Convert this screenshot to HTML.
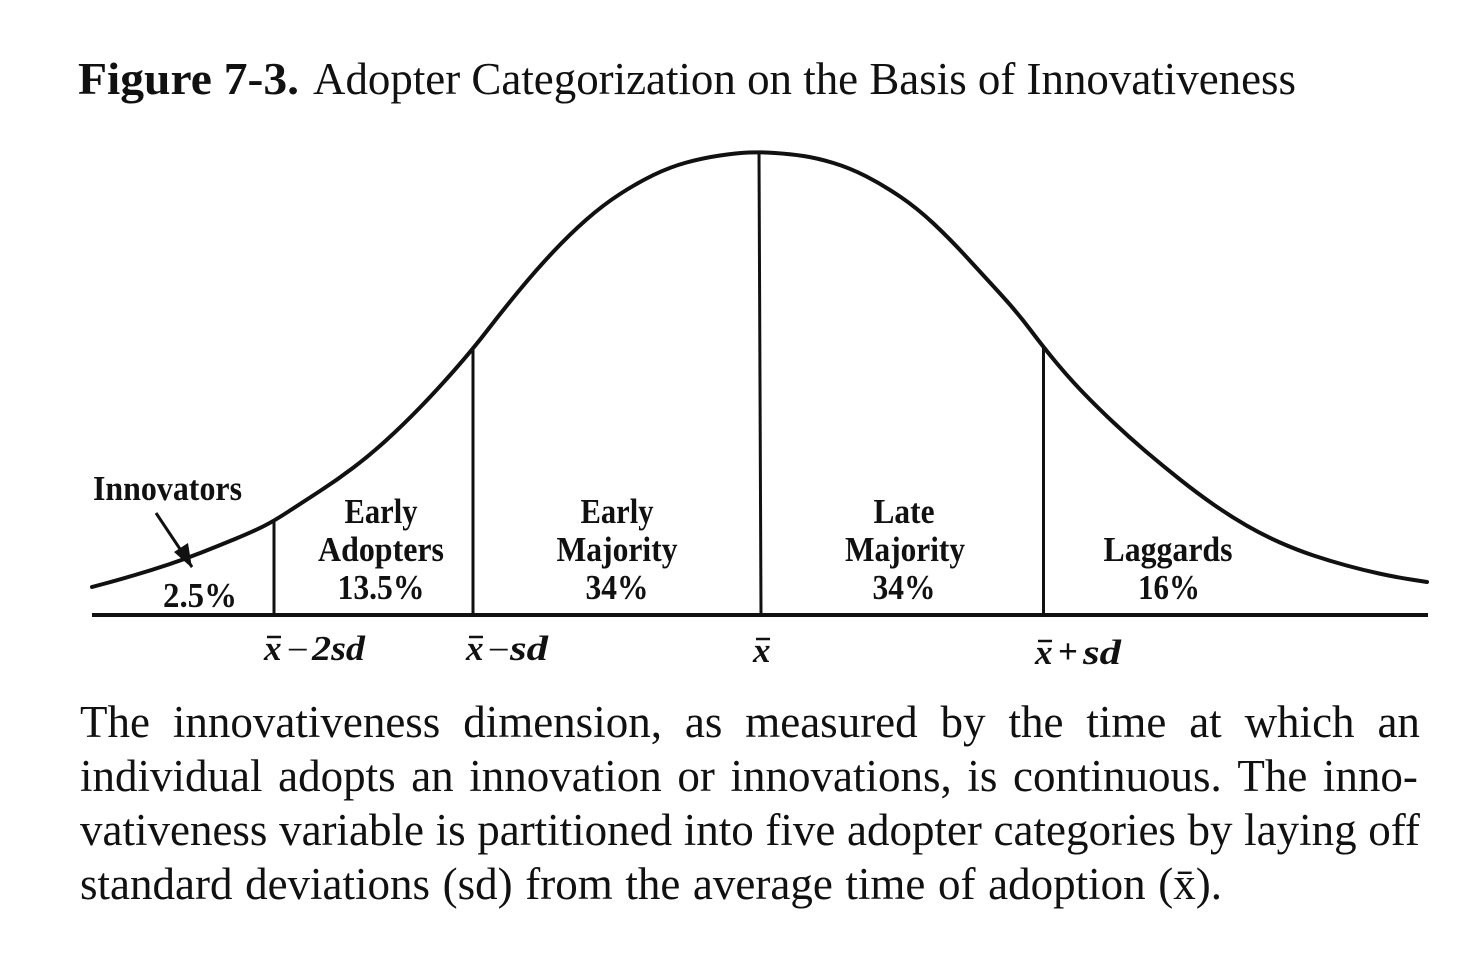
<!DOCTYPE html>
<html>
<head>
<meta charset="utf-8">
<style>
  html,body{margin:0;padding:0;background:#fff;}
  body{width:1480px;height:970px;position:relative;overflow:hidden;}
  svg{position:absolute;left:0;top:0;}
  .l{position:absolute;left:80px;display:flex;justify-content:space-between;
     font-family:"Liberation Serif",serif;font-size:45px;line-height:54px;height:54px;
     white-space:nowrap;color:#111;}
</style>
</head>
<body>
<svg width="1480" height="970" viewBox="0 0 1480 970" xmlns="http://www.w3.org/2000/svg">
  <g font-family="Liberation Serif, serif" fill="#111">
    <text x="78" y="94" font-weight="bold" font-size="46" textLength="221" lengthAdjust="spacingAndGlyphs">Figure 7-3.</text>
    <text x="313" y="94" font-size="46" textLength="983" lengthAdjust="spacingAndGlyphs">Adopter Categorization on the Basis of Innovativeness</text>
  </g>

  <!-- curve -->
  <path fill="none" stroke="#111" stroke-width="4" stroke-linejoin="round" stroke-linecap="round"
    d="M92,587 L105,583.5 Q118,580 135,575 Q152,570 168.5,564.5 Q185,559 201.5,552.5 Q218,546 235,539 Q252,532 263,526.5 Q274,521 288.5,511.5 Q303,502 320,491 Q337,480 353.5,467.5 Q370,455 386.5,440 Q403,425 420,407.5 Q437,390 455,369.5 Q473,349 488,329.5 Q503,310 520,289.5 Q537,269 553.5,251.5 Q570,234 586.5,219.5 Q603,205 620,194 Q637,183 653.5,175 Q670,167 686.5,162.5 Q703,158 720,155.5 Q737,153 748.5,152.5 Q760,152 775,153 Q790,154 803.5,156 Q817,158 833.5,163 Q850,168 866.5,176.5 Q883,185 900,196.5 Q917,208 933.5,223.5 Q950,239 966.5,257 Q983,275 1000,293.5 Q1017,312 1030.5,330 Q1044,348 1057,363.5 Q1070,379 1083.5,393 Q1097,407 1113.5,422.5 Q1130,438 1146.5,452 Q1163,466 1180,479.5 Q1197,493 1213.5,504.5 Q1230,516 1246.5,525.5 Q1263,535 1280,542.5 Q1297,550 1313.5,555.5 Q1330,561 1346.5,565.5 Q1363,570 1379,573.5 Q1395,577 1411,579.5 L1427,582"/>

  <!-- baseline -->
  <line x1="92" y1="615" x2="1428" y2="615" stroke="#111" stroke-width="4"/>
  <!-- verticals -->
  <line x1="274" y1="522" x2="274" y2="615" stroke="#111" stroke-width="3"/>
  <line x1="473" y1="350" x2="473" y2="615" stroke="#111" stroke-width="3"/>
  <line x1="759" y1="152" x2="761" y2="615" stroke="#111" stroke-width="3"/>
  <line x1="1043.5" y1="348" x2="1043.5" y2="615" stroke="#111" stroke-width="3"/>

  <!-- arrow -->
  <line x1="156" y1="513" x2="192" y2="567" stroke="#111" stroke-width="3"/>
  <polygon points="192,568 174,552 188,543" fill="#111"/>

  <!-- labels -->
  <g font-family="Liberation Serif, serif" font-weight="bold" font-size="35" fill="#111" text-anchor="middle" lengthAdjust="spacingAndGlyphs">
    <text x="167.5" y="500" textLength="149" lengthAdjust="spacingAndGlyphs">Innovators</text>
    <text x="200" y="607" textLength="74" lengthAdjust="spacingAndGlyphs">2.5%</text>
    <text x="381" y="523" textLength="73" lengthAdjust="spacingAndGlyphs">Early</text>
    <text x="381" y="561" textLength="126" lengthAdjust="spacingAndGlyphs">Adopters</text>
    <text x="381" y="599" textLength="87" lengthAdjust="spacingAndGlyphs">13.5%</text>
    <text x="617" y="523" textLength="73" lengthAdjust="spacingAndGlyphs">Early</text>
    <text x="617" y="561" textLength="121" lengthAdjust="spacingAndGlyphs">Majority</text>
    <text x="617" y="599" textLength="63" lengthAdjust="spacingAndGlyphs">34%</text>
    <text x="904" y="523" textLength="61" lengthAdjust="spacingAndGlyphs">Late</text>
    <text x="905" y="561" textLength="120" lengthAdjust="spacingAndGlyphs">Majority</text>
    <text x="904" y="599" textLength="63" lengthAdjust="spacingAndGlyphs">34%</text>
    <text x="1168" y="561" textLength="129" lengthAdjust="spacingAndGlyphs">Laggards</text>
    <text x="1169" y="599" textLength="62" lengthAdjust="spacingAndGlyphs">16%</text>
  </g>

  <!-- axis labels -->
  <g font-family="Liberation Serif, serif" font-weight="bold" font-style="italic" font-size="35" fill="#111">
    <text x="264" y="660">x</text>
    <text x="289" y="658" font-style="normal" font-weight="normal">–</text>
    <text x="312" y="660" textLength="53" lengthAdjust="spacingAndGlyphs">2sd</text>

    <text x="466" y="660">x</text>
    <text x="490" y="658" font-style="normal" font-weight="normal">–</text>
    <text x="510" y="660" textLength="38" lengthAdjust="spacingAndGlyphs">sd</text>

    <text x="753" y="662">x</text>

    <text x="1035" y="664">x</text>
    <text x="1058" y="663" font-style="normal">+</text>
    <text x="1083" y="664" textLength="38" lengthAdjust="spacingAndGlyphs">sd</text>
  </g>
  <g stroke="#111" stroke-width="2.5">
    <line x1="267" y1="637" x2="281" y2="637"/>
    <line x1="469" y1="637" x2="483" y2="637"/>
    <line x1="756" y1="639" x2="770" y2="639"/>
    <line x1="1038" y1="641" x2="1052" y2="641"/>
  </g>
</svg>

<div class="l" style="top:695px;width:1340px">
  <span>The</span><span>innovativeness</span><span>dimension,</span><span>as</span><span>measured</span><span>by</span><span>the</span><span>time</span><span>at</span><span>which</span><span>an</span>
</div>
<div class="l" style="top:749px;width:1338px">
  <span>individual</span><span>adopts</span><span>an</span><span>innovation</span><span>or</span><span>innovations,</span><span>is</span><span>continuous.</span><span>The</span><span>inno-</span>
</div>
<div class="l" style="top:803px;width:1340px">
  <span>vativeness</span><span>variable</span><span>is</span><span>partitioned</span><span>into</span><span>five</span><span>adopter</span><span>categories</span><span>by</span><span>laying</span><span>off</span>
</div>
<div class="l" style="top:857px;width:1142px">
  <span>standard</span><span>deviations</span><span>(sd)</span><span>from</span><span>the</span><span>average</span><span>time</span><span>of</span><span>adoption</span><span>(x̄).</span>
</div>
</body>
</html>
